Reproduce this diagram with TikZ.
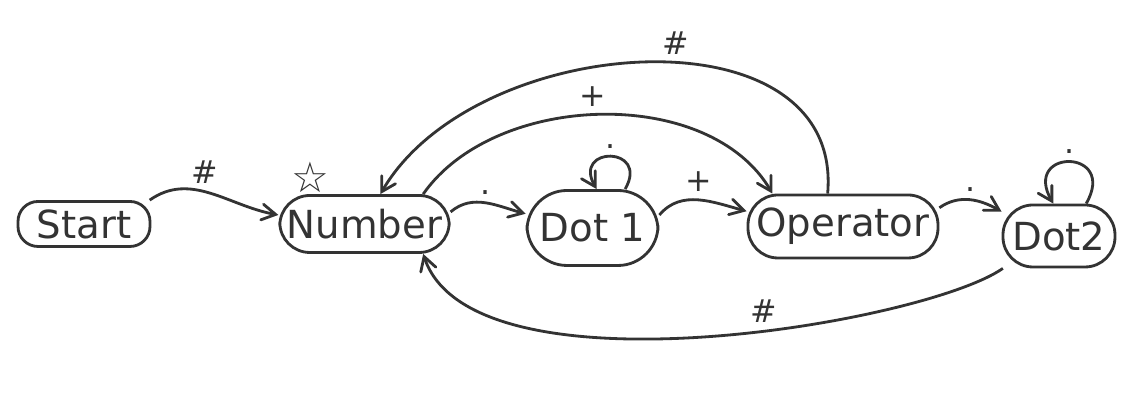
\documentclass[tikz,border=0pt]{standalone}
\usepackage{fontspec}
\setmainfont{DejaVu Sans}
\usetikzlibrary{arrows}

\begin{document}
\begin{tikzpicture}[>=angle 60, thick, black!80,
  state/.style={draw, rounded corners=3mm, inner sep=2pt, font=\fontsize{11}{13}\selectfont},
  lbl/.style={font=\small, inner sep=2pt}]
  \useasboundingbox (0,0) rectangle (11.36,4.05);

  % states
  \node[state, minimum width=13.2mm, minimum height=4.5mm, rounded corners=2mm] (start) at (0.84,1.81) {Start};
  \node[state, minimum width=16.3mm, minimum height=5.7mm] (number) at (3.645,1.81) {Number};
  \node[state, minimum width=13.1mm, minimum height=7.5mm, rounded corners=4mm] (dot1) at (5.925,1.77) {Dot 1};
  \node[state, minimum width=19mm, minimum height=6.3mm] (operator) at (8.43,1.785) {Operator};
  \node[state, minimum width=11.2mm, minimum height=6.2mm] (dot2) at (10.59,1.69) {Dot2};
  \node[font=\large] (star) at (3.10,2.28) {☆};

  % transitions
  \draw[->] (start.20) to[out=35,in=170] node[lbl, above, pos=0.45] (l1) {\#} (number.174);
  \draw[->] (number.8) to[out=40,in=165] node[lbl, above] (l2) {.} (dot1.168);
  \draw[->] (dot1.50) to[out=60,in=120,looseness=4.5] node[lbl, above] (l3) {.} (dot1.84);
  \draw[->] (dot1.11) to[out=50,in=165] node[lbl, above] (l4) {+} (operator.171);
  \draw[->] (operator.11) to[out=35,in=150] node[lbl, above] (l5) {.} (dot2.157);
  \draw[->] (dot2.50) to[out=60,in=120,looseness=5] node[lbl, above] (l6) {.} (dot2.100);
  \draw[->] (number.27) to[out=55,in=120,looseness=0.92] node[lbl, above, pos=0.48] (l7) {+} (operator.155);
  \draw[->] (operator.115) to[out=85,in=60,looseness=1.08] node[lbl, above, pos=0.45] (l8) {\#} (number.62);
  \draw[->] (dot2.210) to[out=-145,in=-72,out looseness=0.42,in looseness=0.68] node[lbl, above, pos=0.42] (l9) {\#} (number.333);
\end{tikzpicture}
\end{document}
